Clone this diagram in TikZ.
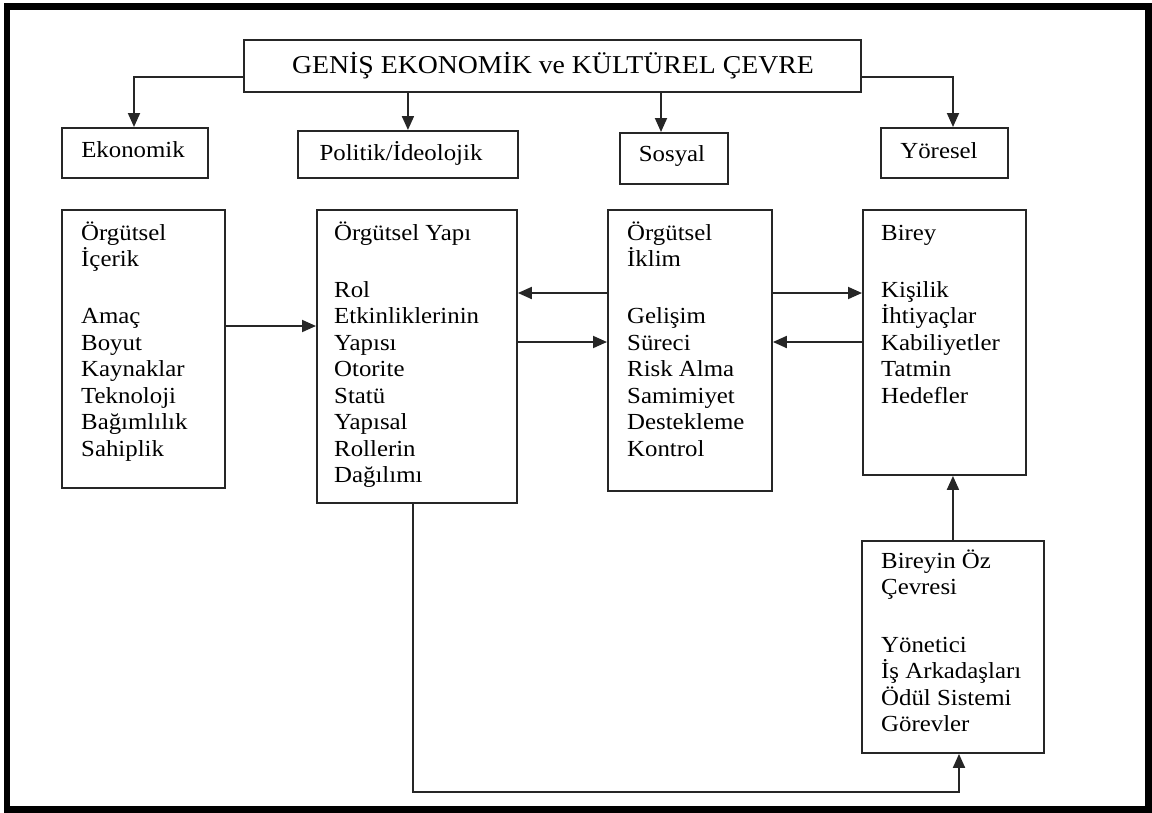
\documentclass[tikz,border=0pt]{standalone}
\usepackage{fontspec}
\setmainfont{Liberation Serif}[FakeStretch=1.08]
\usetikzlibrary{arrows.meta}

% multi-line block text: baseline of the node = baseline of the first line
\newcommand{\blocktext}[1]{\parbox[t]{200pt}{\raggedright\fontsize{23}{26.5}\selectfont #1}}

\tikzset{
  box/.style={draw=black!85, line width=1.9pt, inner sep=0pt, anchor=north west},
  lbl/.style={inner sep=0pt, anchor=base, font=\fontsize{23}{26.5}\selectfont},
  blk/.style={inner sep=0pt, anchor=base west},
  arr/.style={draw=black!85, line width=1.9pt, line join=miter, -{Triangle[length=14pt,width=12pt]}},
}

\begin{document}
\begin{tikzpicture}[x=1pt, y=-1pt]
\useasboundingbox (0,0) rectangle (1152,812);
% outer frame
\draw[line width=6.5pt] (7,6.5) rectangle (1148.5,809.5);

% top box
\node[box, minimum width=617pt, minimum height=52pt] (top) at (243,39) {};
\node[inner sep=0pt, anchor=base, font=\fontsize{25.7}{30}\selectfont] (topt) at (553,73) {GENİŞ EKONOMİK ve KÜLTÜREL ÇEVRE};

% environment boxes
\node[box, minimum width=146pt, minimum height=50pt] (ekon) at (61,127) {};
\node[lbl] (ekont) at (133,157) {Ekonomik};
\node[box, minimum width=220pt, minimum height=47pt] (poli) at (297,130) {};
\node[lbl] (polit) at (401,160) {Politik/İdeolojik};
\node[box, minimum width=108pt, minimum height=51pt] (sosy) at (619,132) {};
\node[lbl] (sosyt) at (672,161) {Sosyal};
\node[box, minimum width=127pt, minimum height=50pt] (yore) at (880,127) {};
\node[lbl] (yoret) at (939,158) {Yöresel};

% main blocks
\node[box, minimum width=163pt, minimum height=278pt] (icerik) at (61,209) {};
\node[blk] (icerikt) at (81,240) {\blocktext{Örgütsel\\İçerik\\[30.5pt]Amaç\\Boyut\\Kaynaklar\\Teknoloji\\Bağımlılık\\Sahiplik}};

\node[box, minimum width=200pt, minimum height=293pt] (yapi) at (316,209) {};
\node[blk] (yapit) at (334,240) {\blocktext{Örgütsel Yapı\\[30.5pt]Rol\\Etkinliklerinin\\Yapısı\\Otorite\\Statü\\Yapısal\\Rollerin\\Dağılımı}};

\node[box, minimum width=164pt, minimum height=281pt] (iklim) at (607,209) {};
\node[blk] (iklimt) at (627,240) {\blocktext{Örgütsel\\İklim\\[30.5pt]Gelişim\\Süreci\\Risk Alma\\Samimiyet\\Destekleme\\Kontrol}};

\node[box, minimum width=163pt, minimum height=265pt] (birey) at (862,209) {};
\node[blk] (bireyt) at (881,240) {\blocktext{Birey\\[30.5pt]Kişilik\\İhtiyaçlar\\Kabiliyetler\\Tatmin\\Hedefler}};

\node[box, minimum width=182pt, minimum height=212pt] (oz) at (861,540) {};
\node[blk] (ozt) at (881,568) {\blocktext{Bireyin Öz\\Çevresi\\[31pt]Yönetici\\İş Arkadaşları\\Ödül Sistemi\\Görevler}};

% routing points
\coordinate (tl) at (134,77);
\coordinate (tr) at (953,77);
\coordinate (ts) at (661,100);
\coordinate (r1) at (0,326);
\coordinate (r2) at (0,293);
\coordinate (r3) at (0,342);
\coordinate (b1) at (413,792);
\coordinate (b2) at (959,792);

% from the wide environment
\draw[arr] (top.west |- tl) -- (tl) -- (tl |- ekon.north);
\draw[arr] (top.south -| poli.north) -- (poli.north);
\draw[arr] (top.south -| ts) -- (ts |- sosy.north);
\draw[arr] (top.east |- tr) -- (tr) -- (tr |- yore.north);

% between the blocks
\draw[arr] (icerik.east |- r1) -- (yapi.west |- r1);
\draw[arr] (iklim.west |- r2) -- (yapi.east |- r2);
\draw[arr] (yapi.east |- r3) -- (iklim.west |- r3);
\draw[arr] (iklim.east |- r2) -- (birey.west |- r2);
\draw[arr] (birey.west |- r3) -- (iklim.east |- r3);
\draw[arr] (oz.north) -- (oz.north |- birey.south);
\draw[arr] (yapi.south -| b1) -- (b1) -- (b2) -- (b2 |- oz.south);
\end{tikzpicture}
\end{document}
